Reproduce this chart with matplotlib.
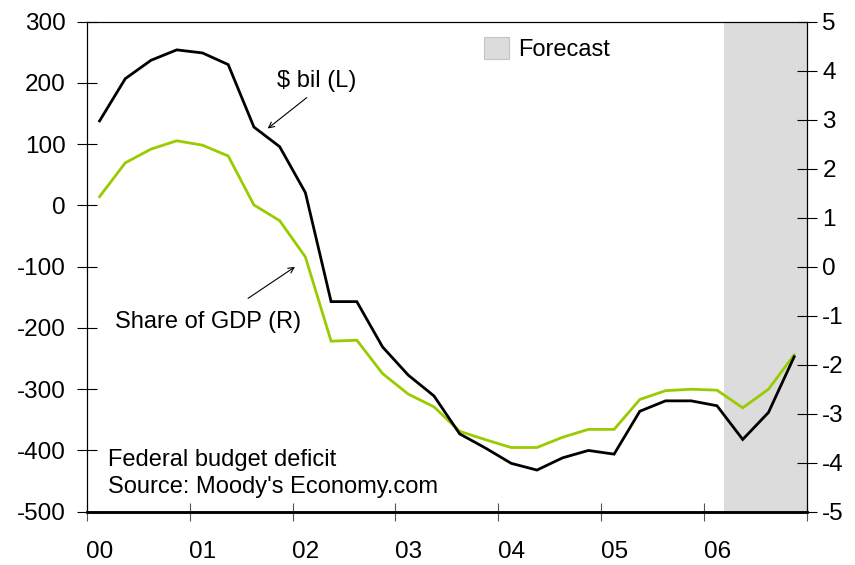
import numpy as np
import matplotlib
matplotlib.use("Agg")
import matplotlib.pyplot as plt
from matplotlib.patches import Patch

plt.rcParams['font.family'] = ['Liberation Sans', 'DejaVu Sans']

# Quarterly federal budget deficit, 2000Q1 - 2006Q4
years = [2000, 2001, 2002, 2003, 2004, 2005, 2006]
year_labels = ["00", "01", "02", "03", "04", "05", "06"]
quarters_per_year = 4
n_quarters = 28

deficit_bil = [138, 207, 237, 254, 249, 230, 128, 96, 21,
               -157, -157, -231, -277, -311, -373, -396, -421, -432,
               -412, -400, -406, -336, -319, -319, -327, -382, -338, -247]
deficit_share_gdp = [1.43, 2.12, 2.40, 2.57, 2.48, 2.26, 1.26, 0.94, 0.20,
                     -1.52, -1.50, -2.18, -2.60, -2.86, -3.36, -3.53, -3.69, -3.69,
                     -3.48, -3.32, -3.32, -2.71, -2.53, -2.50, -2.52, -2.88, -2.50, -1.80]

forecast_start = 2006.19
forecast_end = 2007.0

# quarter mid-points
x = years[0] + (np.arange(n_quarters) + 0.5) / quarters_per_year

fig = plt.figure(figsize=(8.55, 5.65), dpi=100)
ax = fig.add_axes([0.1014, 0.0943, 0.8425, 0.8673])
ax2 = ax.twinx()

# shaded forecast band sits on the lower (right-scale) axes so both lines stay on top
ax2.axvspan(forecast_start, forecast_end, color='#dcdcdc', lw=0, zorder=0)
ax2.plot(x, deficit_share_gdp, color='#99cc00', lw=2.0, zorder=3, solid_joinstyle='miter')
ax.plot(x, deficit_bil, color='black', lw=2.0, zorder=3, solid_joinstyle='miter')

ax.set_xlim(2000, 2007)
ax.set_ylim(-500, 300)
ax2.set_ylim(-5, 5)
ax.set_yticks(np.arange(-500, 301, 100))
ax2.set_yticks(np.arange(-5, 6, 1))
ax.set_yticklabels([str(v) for v in range(-500, 301, 100)])
ax2.set_yticklabels([str(v) for v in range(-5, 6, 1)])

# year ticks with labels sitting just right of each tick
ax.set_xticks(years + [2007])
ax.set_xticklabels([])
ax.set_xticks([y + 0.13 for y in years], minor=True)
ax.set_xticklabels(year_labels, minor=True)

ax.tick_params(axis='x', which='major', direction='inout', length=13, width=0.8, color='#555555')
ax.tick_params(axis='x', which='minor', length=0, pad=21, labelsize=17.5)
ax.tick_params(axis='y', direction='inout', length=14, width=0.8, pad=8, labelsize=17.5)
ax2.tick_params(axis='y', direction='inout', length=14, width=0.8, pad=4, labelsize=17.5)

for a in (ax, ax2):
    a.spines['top'].set_linewidth(0.8)
    a.spines['left'].set_linewidth(0.8)
    a.spines['right'].set_linewidth(0.8)
    a.spines['bottom'].set_linewidth(1.8)
ax.set_zorder(ax2.get_zorder() + 1)
ax.patch.set_visible(False)

arrow = dict(arrowstyle='->', color='black', lw=0.8, shrinkA=0, shrinkB=0)
ax.annotate('', xy=(2001.759, 125.6), xytext=(2002.138, 176), arrowprops=arrow)
ax.text(2001.849, 193, '$ bil (L)', fontsize=17, va='baseline', ha='left')
ax.annotate('', xy=(2002.024, -100.2), xytext=(2001.568, -151.7), arrowprops=arrow)
ax.text(2000.275, -200, 'Share of GDP (R)', fontsize=17, va='baseline', ha='left')

ax.text(2000.207, -425.6, 'Federal budget deficit', fontsize=17, va='baseline', ha='left')
ax.text(2000.207, -469, "Source: Moody's Economy.com", fontsize=17, va='baseline', ha='left')

ax.legend(handles=[Patch(facecolor='#dcdcdc', edgecolor='#c4c4c4', lw=0.8, label='Forecast')],
          loc='upper left', bbox_to_anchor=(0.5516, 0.9688), frameon=False, fontsize=17,
          handlelength=1.06, handleheight=1.06, handletextpad=0.38,
          borderpad=0, borderaxespad=0)

fig.savefig('out.png', dpi=100)
